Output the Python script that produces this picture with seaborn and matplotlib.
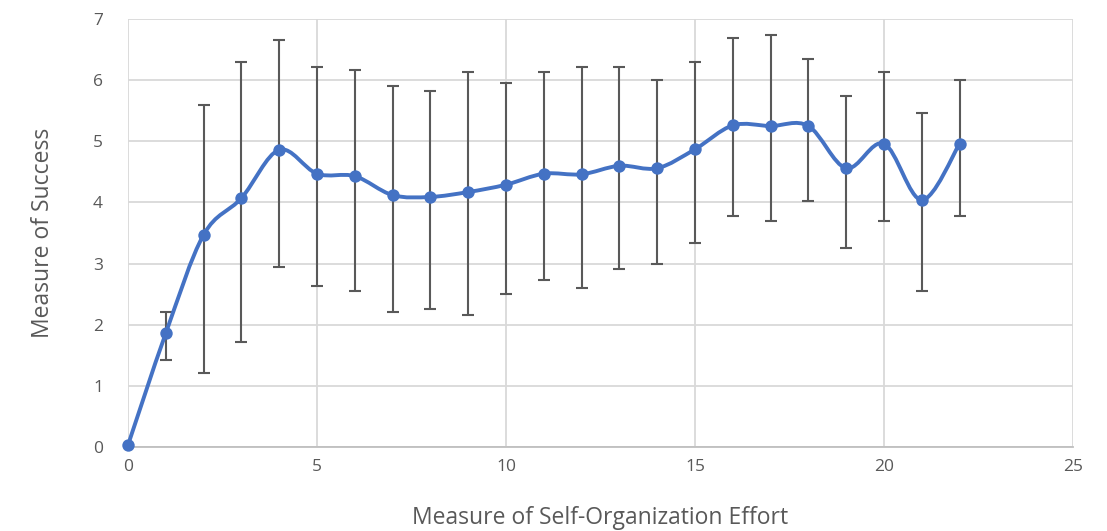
import numpy as np
import pandas as pd
import matplotlib
matplotlib.use('Agg')
import matplotlib.pyplot as plt
from matplotlib.path import Path
from matplotlib.patches import PathPatch
import seaborn as sns

# data
effort = [0, 1, 2, 3, 4, 5, 6, 7, 8, 9, 10, 11, 12, 13, 14, 15, 16, 17, 18, 19, 20, 21, 22]
success = [0.03, 1.86, 3.47, 4.07, 4.86, 4.47, 4.43, 4.12, 4.09, 4.17, 4.29, 4.47, 4.46,
           4.60, 4.56, 4.87, 5.26, 5.25, 5.25, 4.56, 4.96, 4.04, 4.96]
err_top = [np.nan, 2.21, 5.60, 6.30, 6.66, 6.22, 6.17, 5.91, 5.83, 6.13, 5.96, 6.13, 6.22,
           6.22, 6.00, 6.30, 6.69, 6.74, 6.35, 5.74, 6.13, 5.47, 6.00]
err_bottom = [np.nan, 1.42, 1.21, 1.72, 2.95, 2.64, 2.55, 2.20, 2.25, 2.16, 2.51, 2.73, 2.60,
              2.91, 2.99, 3.34, 3.77, 3.69, 4.03, 3.25, 3.69, 2.55, 3.77]

df = pd.DataFrame({'effort': effort, 'success': success,
                   'top': err_top, 'bottom': err_bottom})

sns.set_theme(style='white')
plt.rcParams['font.family'] = ['Open Sans', 'DejaVu Sans']

blue = '#4472C4'
grey = '#595959'

fig = plt.figure(figsize=(11.07, 5.31), dpi=100)
ax = fig.add_axes([0.1156, 0.1582, 0.8537, 0.806])

# error bars
eb = df.dropna()
ax.errorbar(eb['effort'], eb['success'],
            yerr=[eb['success'] - eb['bottom'], eb['top'] - eb['success']],
            fmt='none', ecolor=grey, elinewidth=1.5, capsize=4, capthick=1.5, zorder=2)

# smoothed line (Excel style bezier through the points)
pts = np.column_stack([df['effort'], df['success']])
verts = [tuple(pts[0])]
codes = [Path.MOVETO]
n = len(pts)
for i in range(n - 1):
    p0 = pts[max(i - 1, 0)]
    p1 = pts[i]
    p2 = pts[i + 1]
    p3 = pts[min(i + 2, n - 1)]
    c1 = p1 + (p2 - p0) / 6
    c2 = p2 - (p3 - p1) / 6
    verts += [tuple(c1), tuple(c2), tuple(p2)]
    codes += [Path.CURVE4] * 3
ax.add_patch(PathPatch(Path(verts, codes), fill=False, edgecolor=blue, lw=2.8,
                       capstyle='round', zorder=3))

sns.scatterplot(data=df, x='effort', y='success', color=blue, s=80,
                edgecolor=blue, linewidth=0, ax=ax, zorder=4, clip_on=False)

ax.set_xlim(0, 25)
ax.set_ylim(0, 7)
ax.set_xticks(range(0, 26, 5))
ax.set_yticks(range(0, 8))
ax.grid(True, color='#d9d9d9', lw=1.3)
ax.set_axisbelow(True)
for side in ['top', 'right', 'left']:
    ax.spines[side].set_visible(False)
ax.spines['bottom'].set_color('#bfbfbf')
ax.spines['bottom'].set_linewidth(1.3)
ax.tick_params(axis='both', length=0, labelsize=12.5, labelcolor=grey)
ax.tick_params(axis='x', pad=9)
ax.tick_params(axis='y', pad=18)

ax.set_xlabel('Measure of Self-Organization Effort', fontsize=16.5, color=grey, labelpad=22)
ax.set_ylabel('Measure of Success', fontsize=16.5, color=grey, labelpad=27)

fig.savefig('out.png', dpi=100)
